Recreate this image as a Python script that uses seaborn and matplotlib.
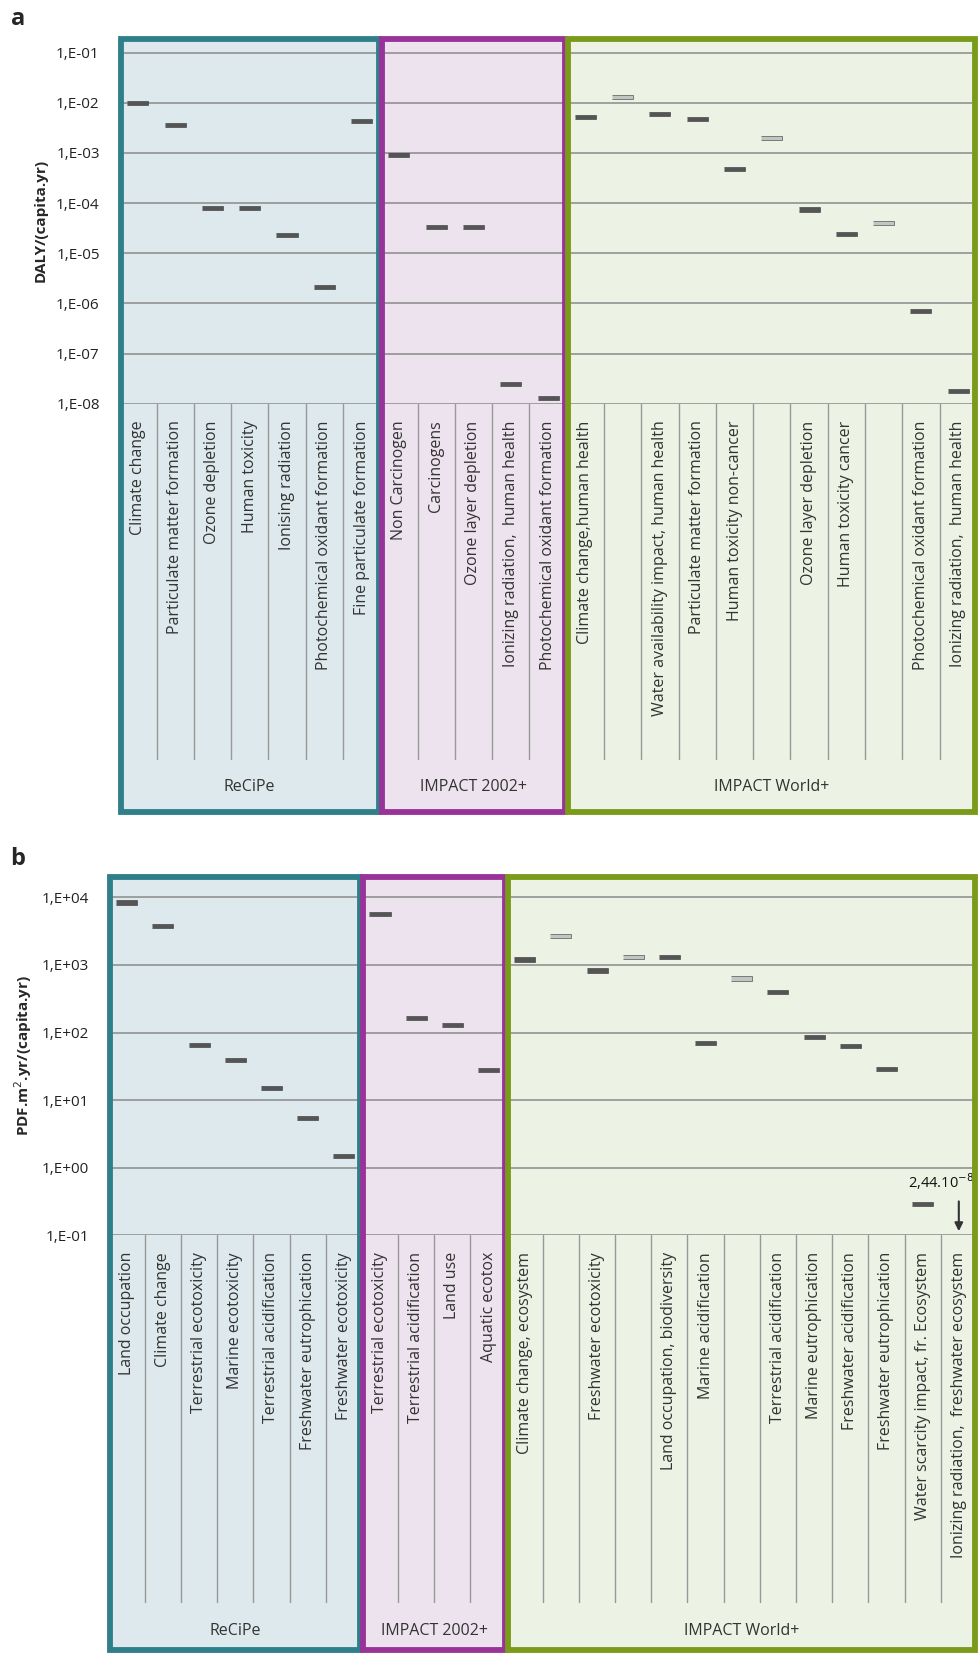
import numpy as np
import pandas as pd
import matplotlib.pyplot as plt
import matplotlib.transforms as mtrans
from matplotlib.patches import Rectangle
import seaborn as sns

# panel a
a_groups = ["ReCiPe", "IMPACT 2002+", "IMPACT World+"]
a_counts = [7, 5, 11]
a_labels = ["Climate change", "Particulate matter formation", "Ozone depletion", "Human toxicity",
            "Ionising radiation", "Photochemical oxidant formation", "Fine particulate formation",
            "Non Carcinogen", "Carcinogens", "Ozone layer depletion", "Ionizing radiation,  human health",
            "Photochemical oxidant formation",
            "Climate change,human health", "", "Water availability impact, human health",
            "Particulate matter formation", "Human toxicity non-cancer", "", "Ozone layer depletion",
            "Human toxicity cancer", "", "Photochemical oxidant formation", "Ionizing radiation,  human health"]
a_values = [1.0e-2, 3.6e-3, 8e-5, 8e-5, 2.3e-5, 2.1e-6, 4.3e-3,
            9e-4, 3.3e-5, 3.3e-5, 2.5e-8, 1.3e-8,
            5.3e-3, 1.3e-2, 6e-3, 4.7e-3, 4.8e-4, 2e-3, 7.5e-5, 2.4e-5, 4e-5, 7e-7, 1.8e-8]
a_light = [13, 17, 20]

# panel b
b_groups = ["ReCiPe", "IMPACT 2002+", "IMPACT World+"]
b_counts = [7, 4, 13]
b_labels = ["Land occupation", "Climate change", "Terrestrial ecotoxicity", "Marine ecotoxicity",
            "Terrestrial acidification", "Freshwater eutrophication", "Freshwater ecotoxicity",
            "Terrestrial ecotoxicity", "Terrestrial acidification", "Land use", "Aquatic ecotox",
            "Climate change, ecosystem", "", "Freshwater ecotoxicity", "", "Land occupation, biodiversity",
            "Marine acidification", "", "Terrestrial acidification", "Marine eutrophication",
            "Freshwater acidification", "Freshwater eutrophication", "Water scarcity impact, fr. Ecosystem",
            "Ionizing radiation,  freshwater ecosystem"]
b_values = [8.4e3, 3.8e3, 65, 39, 15, 5.5, 1.5,
            5.6e3, 165, 130, 28,
            1.2e3, 2.7e3, 830, 1.3e3, 1.3e3, 70, 630, 400, 85, 63, 29, 0.29, np.nan]
b_light = [12, 14, 17]

sns.set_theme(style="white")
plt.rcParams['font.family'] = ['Open Sans', 'DejaVu Sans']

box_edges = ["#2e7f8a", "#993399", "#7a9a1a"]
box_faces = ["#dde9ec", "#ede3ee", "#ecf2e4"]
W, H = 928, 1570
fig = plt.figure(figsize=(9.79, 16.55), dpi=100)

bar = [(-2.2, -0.45), (2.2, -0.45), (2.2, 0.45), (-2.2, 0.45)]


def panel(rect, labels, values, light, groups, counts, ylim, decades, fmt, ylabel,
          box_bottom, sep_bottom, grp_y):
    ax = fig.add_axes(rect)
    n = len(labels)
    df = pd.DataFrame({"x": np.arange(n), "v": values})
    df["kind"] = ["light" if i in light else "dark" for i in range(n)]
    sns.scatterplot(data=df, x="x", y="v", hue="kind", palette={"dark": "#555555", "light": "#c2c6c2"},
                    marker=bar, s=230, edgecolor="#333333", linewidth=0.4, legend=False, ax=ax, zorder=4)
    ax.set_yscale("log")
    ax.set_ylim(*ylim)
    ax.set_xlim(-0.5, n - 0.5)
    for d in decades:
        ax.axhline(10.0 ** d, color="#8a8a8a", lw=1.1, zorder=2)
    ax.set_yticks([10.0 ** d for d in decades])
    ax.set_yticklabels([fmt(d) for d in decades], fontsize=11, color="#222")
    ax.minorticks_off()
    ax.tick_params(axis="y", length=0, pad=14)
    ax.set_xticks(np.arange(n))
    ax.set_xticklabels(labels, rotation=90, fontsize=11.5, color="#333")
    ax.tick_params(axis="x", length=0, pad=12)
    ax.set_xlabel("")
    ax.set_ylabel(ylabel, fontsize=11, fontweight="bold", labelpad=6)
    for s in ax.spines.values():
        s.set_visible(False)
    ax.patch.set_alpha(0)
    tr = mtrans.blended_transform_factory(ax.transData, ax.transAxes)
    start = 0
    for g, c, ec, fc in zip(groups, counts, box_edges, box_faces):
        x0 = start - 0.5
        fig.patches.append(Rectangle((x0, box_bottom), c, 1 - box_bottom, transform=tr,
                                     facecolor=fc, edgecolor="none", zorder=-2))
        for k in range(1, c):
            ax.plot([x0 + k, x0 + k], [0, sep_bottom], transform=tr, color="#999", lw=1,
                    clip_on=False, zorder=1)
        ax.text(x0 + c / 2, grp_y, g, transform=tr, ha="center", va="center", fontsize=11.5, color="#333")
        start += c
    start = 0
    for c, ec in zip(counts, box_edges):
        ax.add_patch(Rectangle((start - 0.5 + 0.04, box_bottom), c - 0.08, 1 - box_bottom - 0.005,
                               transform=tr, facecolor="none", edgecolor=ec, lw=4.2,
                               clip_on=False, zorder=6))
        start += c
    return ax


ax1 = panel([113 / W, 1 - 383 / H, 813 / W, 348 / H], a_labels, a_values, a_light, a_groups, a_counts,
            (1e-8, 10 ** -0.685), range(-8, 0), lambda d: "1,E-%02d" % (-d), "DALY/(capita.yr)",
            -1.112, -0.968, -1.046)

ax2 = panel([103 / W, 1 - 1172 / H, 823 / W, 342 / H], b_labels, b_values, b_light, b_groups, b_counts,
            (1e-1, 10 ** 4.33), range(-1, 5),
            lambda d: "1,E-01" if d < 0 else "1,E+%02d" % d, "PDF.m$^2$.yr/(capita.yr)",
            -1.149, -1.018, -1.096)
ax2.annotate("", xy=(23, 0.105), xytext=(23, 0.35),
             arrowprops=dict(arrowstyle="-|>", color="#333", lw=1.5), zorder=7)
ax2.text(21.6, 0.62, "2,44.10$^{-8}$", fontsize=10.5, color="#111", ha="left", va="center", clip_on=False)

fig.text(10 / W, 1 - 18 / H, "a", fontsize=17, fontweight="bold", va="center")
fig.text(10 / W, 1 - 815 / H, "b", fontsize=17, fontweight="bold", va="center")

fig.savefig("out.png", dpi=100)
